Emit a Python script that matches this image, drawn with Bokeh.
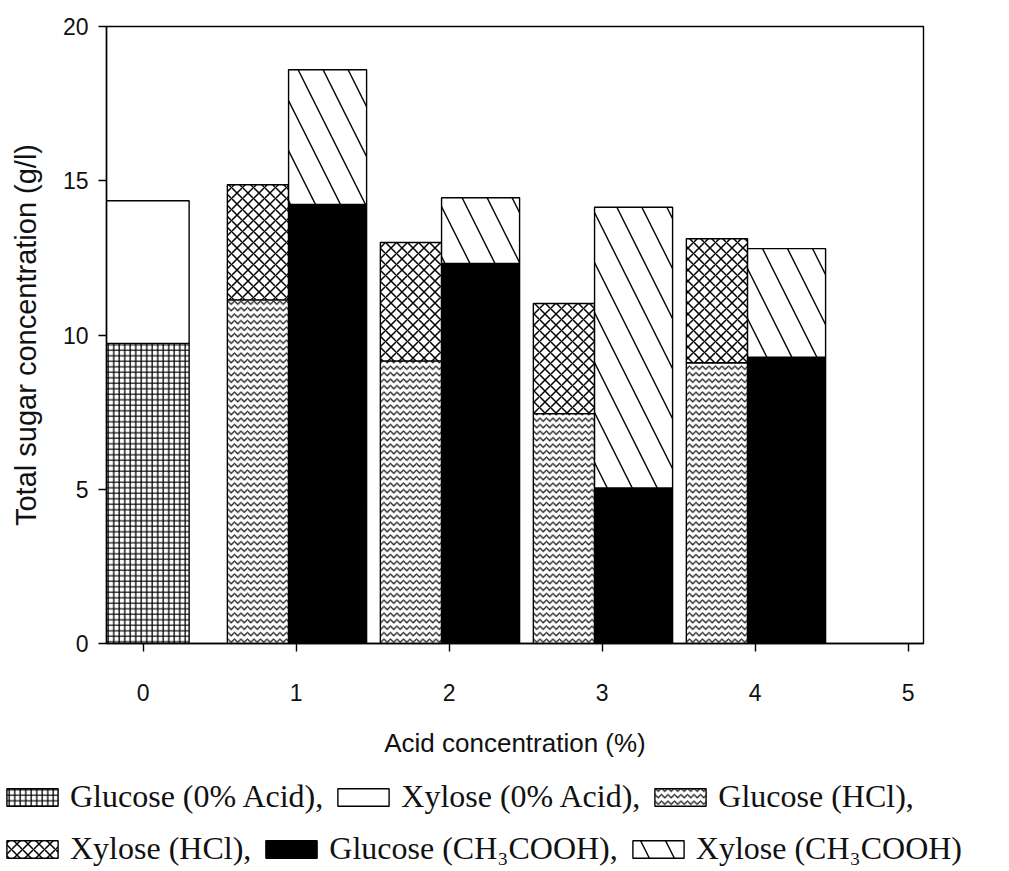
import numpy as np
from bokeh.plotting import figure
from bokeh.models import Legend, LegendItem, FixedTicker, Range1d
from bokeh.embed import file_html
from bokeh.resources import INLINE

# ---- data ----
no_acid_level = [0]
acid_levels = [1, 2, 3, 4]
glucose_no_acid = [9.73]
xylose_no_acid = [4.62]
glucose_hcl = [11.14, 9.16, 7.45, 9.10]
xylose_hcl = [3.73, 3.84, 3.57, 4.02]
glucose_acetic = [14.23, 12.32, 5.04, 9.28]
xylose_acetic = [4.37, 2.13, 9.10, 3.52]
x_ticks = [0, 1, 2, 3, 4, 5]
y_ticks = [0, 5, 10, 15, 20]
legend_row1 = ["Glucose (0% Acid),", "Xylose (0% Acid),", "Glucose (HCl),"]
legend_row2 = ["Xylose (HCl),", "Glucose (CH\u2083COOH),", "Xylose (CH\u2083COOH)"]

LW = 1.4
base = dict(line_color="black", line_width=LW)
style_g0 = dict(base, fill_color="white", hatch_pattern="cross", hatch_scale=5.5,
                hatch_weight=1.3, hatch_color="black")
style_x0 = dict(base, fill_color="white")
style_gh = dict(base, fill_color="white", hatch_pattern="horizontal_wave", hatch_scale=6.5,
                hatch_weight=1.3, hatch_color="#1a1a1a")
style_xh = dict(base, fill_color="white", hatch_pattern="diagonal_cross", hatch_scale=11,
                hatch_weight=1.5, hatch_color="black")
style_ga = dict(base, fill_color="black")
style_xa = dict(base, fill_color="white", hatch_pattern="left_diagonal_line", hatch_scale=50,
                hatch_weight=1.4, hatch_color="black")

p = figure(width=1009, height=760,
           x_range=Range1d(-0.24, 5.1), y_range=Range1d(0, 20),
           output_backend="svg", toolbar_location=None,
           min_border_left=106, min_border_right=86,
           min_border_top=26, min_border_bottom=112)

x0 = np.array(no_acid_level) + 0.03
xh = np.array(acid_levels) - 0.25
xa = np.array(acid_levels) + 0.205
top0 = np.add(glucose_no_acid, xylose_no_acid)
toph = np.add(glucose_hcl, xylose_hcl)
topa = np.add(glucose_acetic, xylose_acetic)

p.vbar(x=x0, width=0.54, bottom=0, top=glucose_no_acid, **style_g0)
p.vbar(x=x0, width=0.54, bottom=glucose_no_acid, top=top0, **style_x0)
p.vbar(x=xh, width=0.40, bottom=0, top=glucose_hcl, **style_gh)
p.vbar(x=xh, width=0.40, bottom=glucose_hcl, top=toph, **style_xh)
p.vbar(x=xa, width=0.51, bottom=0, top=glucose_acetic, **style_ga)
p.vbar(x=xa, width=0.51, bottom=glucose_acetic, top=topa, **style_xa)

# ---- axes ----
p.xgrid.visible = False
p.ygrid.visible = False
p.xaxis.ticker = FixedTicker(ticks=x_ticks)
p.yaxis.ticker = FixedTicker(ticks=y_ticks)
p.xaxis.axis_label = "Acid concentration (%)"
p.yaxis.axis_label = "Total sugar concentration (g/l)"
for ax in (p.xaxis[0], p.yaxis[0]):
    ax.axis_label_text_font = "Liberation Sans"
    ax.axis_label_text_font_style = "normal"
    ax.axis_label_text_color = "#111111"
    ax.major_label_text_font = "Liberation Sans"
    ax.major_label_text_font_size = "23px"
    ax.major_label_text_color = "#111111"
    ax.major_tick_in = 0
    ax.major_tick_out = 8
    ax.major_tick_line_color = "black"
    ax.major_tick_line_width = LW
    ax.minor_tick_line_color = None
    ax.axis_line_color = "black"
    ax.axis_line_width = LW
p.xaxis.axis_label_text_font_size = "26px"
p.yaxis.axis_label_text_font_size = "29px"
p.xaxis.major_label_standoff = 32
p.xaxis.axis_label_standoff = 24
p.yaxis.major_label_standoff = 10
p.yaxis.axis_label_standoff = 18
p.outline_line_color = "black"
p.outline_line_width = LW
p.background_fill_color = "white"
p.border_fill_color = "white"

# ---- legend: a separate strip below the chart, two rows ----
lg = figure(width=1009, height=110, x_range=Range1d(0, 1), y_range=Range1d(0, 1),
            output_backend="svg", toolbar_location=None,
            x_axis_type=None, y_axis_type=None,
            min_border=0, min_border_left=0, min_border_right=0,
            min_border_top=0, min_border_bottom=0)
lg.xgrid.visible = False
lg.ygrid.visible = False
lg.outline_line_color = None
lg.border_fill_color = "white"

nan = float("nan")
styles = [style_g0, style_x0, style_gh, style_xh, style_ga, style_xa]
# legend proxies: same styles, no visible geometry
swatches = [lg.vbar(x=[nan], width=0.1, top=[nan], **s) for s in styles]

def make_legend(labels, renderers, loc):
    items = [LegendItem(label=l, renderers=[r]) for l, r in zip(labels, renderers)]
    return Legend(items=items, orientation="horizontal", location=loc,
                  label_text_font="Liberation Serif", label_text_font_size="32px",
                  label_text_color="#111111",
                  glyph_width=64, glyph_height=22, label_standoff=6, spacing=8,
                  padding=0, margin=0, border_line_alpha=0, background_fill_alpha=0)

lg.add_layout(make_legend(legend_row1, swatches[:3], (0, 55)))
lg.add_layout(make_legend(legend_row2, swatches[3:], (0, 3)))

open("out.html", "w").write(file_html([p, lg], INLINE))
